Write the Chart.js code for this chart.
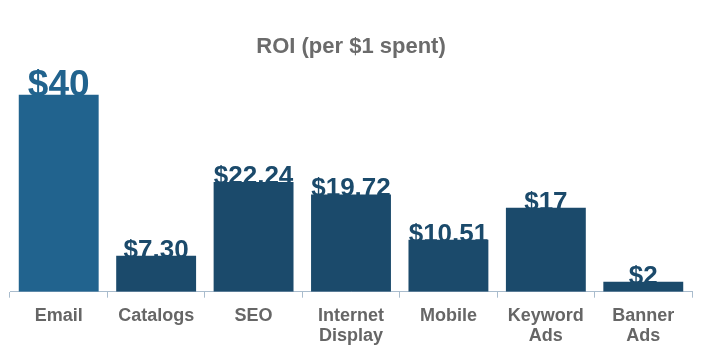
<!DOCTYPE html>
<html lang="en">
<head>
    <meta charset="UTF-8">
    <title>ROI per $1 spent</title>
    <script src="https://cdn.jsdelivr.net/npm/chart.js"></script>
    <style>
        html, body { margin: 0; padding: 0; background: #ffffff; }
        .wrap { position: relative; width: 723px; height: 351px; }
    </style>
</head>
<body>
    <div class="wrap"><canvas id="roiChart"></canvas></div>

    <script>
        // Data
        const categories = ['Email', 'Catalogs', 'SEO', ['Internet', 'Display'], 'Mobile', ['Keyword', 'Ads'], ['Banner', 'Ads']];
        const roiValues = [40, 7.30, 22.24, 19.72, 10.51, 17, 2];
        const valueLabels = ['$40', '$7.30', '$22.24', '$19.72', '$10.51', '$17', '$2'];

        const highlightIndex = 0; // Email is drawn lighter and with a bigger label
        const darkBlue = '#1b4a6b';
        const lightBlue = '#21638e';
        const barColors = roiValues.map((v, i) => i === highlightIndex ? lightBlue : darkBlue);
        const fontFamily = '"Liberation Sans", Arial, Helvetica, sans-serif';

        // value labels drawn before the bars so the bar tops cover their bottoms a little
        const valueLabelPlugin = {
            id: 'valueLabels',
            beforeDatasetsDraw(chart) {
                const ctx = chart.ctx;
                const meta = chart.getDatasetMeta(0);
                ctx.save();
                ctx.textAlign = 'center';
                ctx.textBaseline = 'alphabetic';
                meta.data.forEach((bar, i) => {
                    const size = i === highlightIndex ? 37 : 26;
                    ctx.font = 'bold ' + size + 'px ' + fontFamily;
                    ctx.fillStyle = barColors[i];
                    ctx.fillText(valueLabels[i], bar.x, bar.y + 2);
                });
                ctx.restore();
            }
        };

        new Chart(document.getElementById('roiChart').getContext('2d'), {
            type: 'bar',
            data: {
                labels: categories,
                datasets: [{
                    label: 'ROI',
                    data: roiValues,
                    backgroundColor: barColors,
                    borderWidth: 0,
                    categoryPercentage: 1.0,
                    barPercentage: 0.82
                }]
            },
            options: {
                responsive: true,
                maintainAspectRatio: false,
                animation: false,
                layout: { padding: { left: 10, right: 31, top: 0, bottom: -3 } },
                plugins: {
                    legend: { display: false },
                    tooltip: { enabled: false },
                    title: {
                        display: true,
                        text: 'ROI (per $1 spent)',
                        color: '#6b6b6b',
                        font: { family: fontFamily, size: 22, weight: 'bold' },
                        padding: { top: 34, bottom: 34 }
                    }
                },
                scales: {
                    x: {
                        grid: {
                            display: true,
                            offset: true,
                            drawOnChartArea: false,
                            drawTicks: true,
                            tickLength: 6,
                            color: '#a9bccd'
                        },
                        border: { display: true, color: '#a9bccd', width: 1 },
                        ticks: {
                            color: '#666666',
                            padding: 8,
                            maxRotation: 0,
                            autoSkip: false,
                            font: { family: fontFamily, size: 18, weight: 'bold', lineHeight: 1.12 }
                        }
                    },
                    y: {
                        display: false,
                        min: 0,
                        max: 40
                    }
                }
            },
            plugins: [valueLabelPlugin]
        });
    </script>
</body>
</html>
